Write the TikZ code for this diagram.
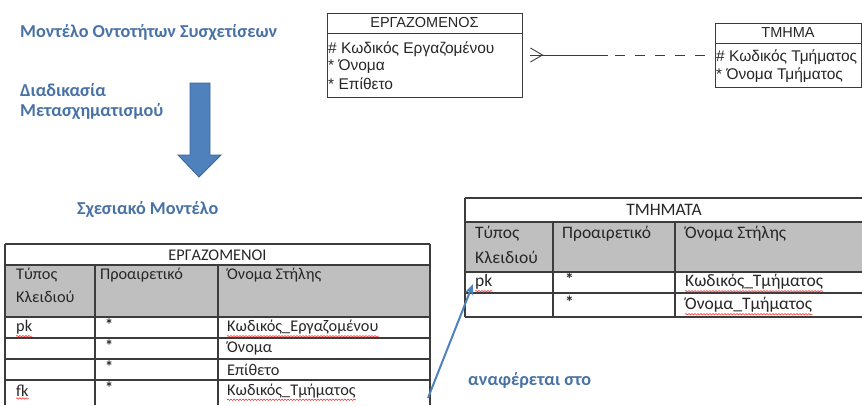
\documentclass[tikz,border=0pt]{standalone}
\usepackage{fontspec}
\setmainfont{Carlito}
\newfontfamily\arialf{Liberation Sans}
\usetikzlibrary{arrows.meta,calc,decorations.pathmorphing}
\definecolor{titleblue}{HTML}{4872A6}
\definecolor{arrowblue}{HTML}{4F81BD}
\definecolor{arrowedge}{HTML}{3A649A}
\definecolor{hdrgray}{HTML}{BFBFBF}
\definecolor{rulec}{HTML}{3C3C3C}
\begin{document}
\begin{tikzpicture}[x=1pt,y=-1pt,
  bluetitle/.style={font=\bfseries\fontsize{18.2}{22}\selectfont, text=titleblue, anchor=west, inner sep=0},
  cell/.style={font=\fontsize{16.3}{19}\selectfont, text=black!85, anchor=west, inner sep=0},
  cellc/.style={cell, anchor=center},
  star/.style={font=\bfseries\fontsize{16.3}{19}\selectfont, text=black!85, anchor=west, inner sep=0},
  tcell/.style={cell, font=\fontsize{17.5}{20}\selectfont},
  tcellc/.style={tcell, anchor=center},
  tstar/.style={star, font=\bfseries\fontsize{17.5}{20}\selectfont},
  erline/.style={font=\arialf\fontsize{15.5}{18}\selectfont, text=black!85, anchor=west, inner sep=0},
  ertitle/.style={font=\arialf\fontsize{14.5}{17}\selectfont, text=black!85, anchor=center, inner sep=0},
  erbox/.style={draw=rulec, line width=0.9pt, inner sep=0},
  tline/.style={draw=rulec, line width=1.1pt},
  conn/.style={draw=rulec, line width=0.9pt},
  spell/.style={draw=red!80, line width=0.6pt, decorate, decoration={snake, amplitude=0.7pt, segment length=3pt}},
]
\useasboundingbox (0,0) rectangle (862,405);

% titles
\node[bluetitle] (t1) at (20,33) {Μοντέλο Οντοτήτων Συσχετίσεων};
\node[bluetitle] (t2) at (20,90) {Διαδικασία};
\node[bluetitle] (t3) at (20,112) {Μετασχηματισμού};
\node[bluetitle] (t4) at (77,210) {Σχεσιακό Μοντέλο};
\node[bluetitle] (t5) at (468,380) {αναφέρεται στο};

% big arrow
\filldraw[fill=arrowblue, draw=arrowedge, line width=0.8pt]
  (190,83) -- (210,83) -- (210,155) -- (221,155) -- (199,177) -- (178,155) -- (190,155) -- cycle;

% ER entity boxes
\node[erbox, minimum width=195, minimum height=84] (erbox) at (424.5,55) {};
\draw[erbox] (327,33) -- (522,33);
\node[ertitle] (ertitle) at (424.5,23) {ΕΡΓΑΖΟΜΕΝΟΣ};
\node[erline] (er1) at (328,49) {\# Κωδικός Εργαζομένου};
\node[erline] (er2) at (328,67) {* Όνομα};
\node[erline] (er3) at (328,84) {* Επίθετο};

\node[erbox, minimum width=146, minimum height=64] (tmbox) at (788,55) {};
\draw[erbox] (715,43) -- (861,43);
\node[ertitle] (tmtitle) at (788,33) {ΤΜΗΜΑ};
\node[erline] (tm1) at (716,57) {\# Κωδικός Τμήματος};
\node[erline] (tm2) at (716,75) {* Όνομα Τμήματος};

% relationship
\coordinate (mid) at (608,55);
\draw[conn] ($(erbox.east)+(8,0)$) -- (mid);
\draw[conn] ($(erbox.east)+(8,-7)$) -- ($(erbox.east)+(20,0)$) -- ($(erbox.east)+(8,7)$);
\draw[conn, dash pattern=on 10pt off 10pt, dash phase=13pt] (mid) -- (tmbox.west);

% table ΕΡΓΑΖΟΜΕΝΟΙ
\fill[hdrgray] (5,265) rectangle (430,317);
\draw[tline] (5,244) -- (430,244);
\foreach \yy in {265,317,338,359,380} \draw[tline] (5,\yy) -- (430,\yy);
\draw[tline] (5,244) -- (5,405);
\draw[tline] (430,244) -- (430,405);
\draw[tline] (95,265) -- (95,405);
\draw[tline] (218,265) -- (218,405);
\node[cellc] (ea) at (217.5,255) {ΕΡΓΑΖΟΜΕΝΟΙ};
\node[cell] (eh1) at (16,275) {Τύπος};
\node[cell] (eh1b) at (16,297) {Κλειδιού};
\node[cell] (eh2) at (100,275) {Προαιρετικό};
\node[cell] (eh3) at (227,275) {Όνομα Στήλης};
\node[cell] (epk) at (16,327.5) {pk};
\node[star] (es1) at (105,324.5) {*};
\node[cell] (ec1) at (227,327.5) {Κωδικός\_Εργαζομένου};
\node[star] (es2) at (105,345.5) {*};
\node[cell] (ec2) at (227,348.5) {Όνομα};
\node[star] (es3) at (105,366.5) {*};
\node[cell] (ec3) at (227,369.5) {Επίθετο};
\node[cell] (efk) at (16,391) {fk};
\node[star] (es4) at (105,388) {*};
\node[cell] (ec4) at (227,391) {Κωδικός\_Τμήματος};

% table ΤΜΗΜΑΤΑ
\fill[hdrgray] (465,222) rectangle (862,272);
\foreach \yy in {198,222,272,293,317} \draw[tline] (465,\yy) -- (862,\yy);
\draw[tline] (465,198) -- (465,317);
\draw[tline] (553,222) -- (553,317);
\draw[tline] (675,222) -- (675,317);
\node[tcellc] (ta) at (664,210) {ΤΜΗΜΑΤΑ};
\node[tcell] (th1) at (475,234) {Τύπος};
\node[tcell] (th1b) at (475,257) {Κλειδιού};
\node[tcell] (th2) at (562,234) {Προαιρετικό};
\node[tcell] (th3) at (685,234) {Όνομα Στήλης};
\node[tcell] (tpk) at (475,282) {pk};
\node[tstar] (ts1) at (565,279) {*};
\node[tcell] (tc1) at (685,282) {Κωδικός\_Τμήματος};
\node[tstar] (ts2) at (565,302) {*};
\node[tcell] (tc2) at (685,305) {Όνομα\_Τμήματος};

% spell-check underlines
\foreach \n in {epk,ec1,efk,ec4,tpk,tc1,tc2}
  \draw[spell] ($(\n.south west)+(0,1.5)$) -- ($(\n.south east)+(0,1.5)$);

% reference arrow
\coordinate (fkend) at (428,398);
\draw[arrowblue, line width=2pt, -{Stealth[length=11pt,width=9pt]}] (fkend) -- ($(tpk.west)+(-2,2)$);
\end{tikzpicture}
\end{document}
